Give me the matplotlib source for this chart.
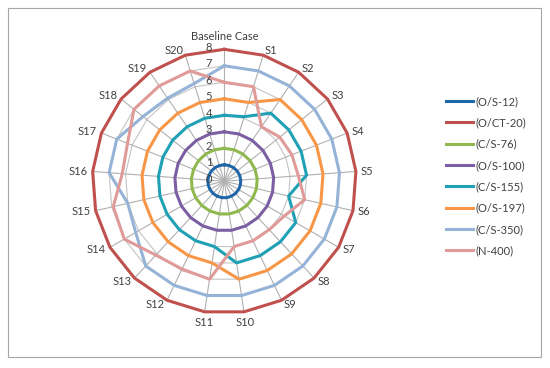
import numpy as np
import matplotlib.pyplot as plt
import matplotlib.transforms as mtransforms
from matplotlib.patches import Rectangle

plt.rcParams['font.family'] = ['Lato', 'DejaVu Sans']

# categories (spokes), clockwise from the top
categories = ['Baseline Case', 'S1', 'S2', 'S3', 'S4', 'S5', 'S6', 'S7', 'S8', 'S9', 'S10',
              'S11', 'S12', 'S13', 'S14', 'S15', 'S16', 'S17', 'S18', 'S19', 'S20']
r_ticks = [0, 1, 2, 3, 4, 5, 6, 7, 8]

# values
os_12 = [1, 1, 1, 1, 1, 1, 1, 1, 1, 1, 1, 1, 1, 1, 1, 1, 1, 1, 1, 1, 1]
oct_20 = [8, 8, 8, 8, 8, 8, 8, 8, 8, 8, 8, 8, 8, 8, 8, 8, 8, 8, 8, 8, 8]
cs_76 = [2, 2, 2, 2, 2, 2, 2, 2, 2, 2, 2, 2, 2, 2, 2, 2, 2, 2, 2, 2, 2]
os_100 = [3, 3, 3, 3, 3, 3, 3, 3, 3, 3, 3, 3, 3, 3, 3, 3, 3, 3, 3, 3, 3]
cs_155 = [4, 4.1, 5, 5, 5, 5, 4, 5, 5, 5, 5, 4, 4, 4, 4, 4, 4, 4, 4, 4, 4]
os_197 = [5, 5, 6, 6, 6, 6, 6, 6, 6, 6, 6, 5, 5, 5, 5, 5, 5, 5, 5, 5, 5]
cs_350 = [7, 7, 7, 7, 7, 7, 7, 7, 7, 7, 7, 7, 7, 7, 6.2, 6.0, 7, 7, 6.3, 6.1, 6.2]
n_400 = [6, 6, 4, 4.3, 4.4, 4.5, 5, 4.2, 4, 4, 4, 6, 5.9, 6.1, 7, 6.9, 6.2, 6.3, 7, 7, 7]

names = ['(O/S-12)', '(O/CT-20)', '(C/S-76)', '(O/S-100)', '(C/S-155)', '(O/S-197)', '(C/S-350)', '(N-400)']
values = [os_12, oct_20, cs_76, os_100, cs_155, os_197, cs_350, n_400]
colors = ['#1f67a8', '#c0504d', '#8fb84f', '#7c5ea2', '#1fa0b4', '#f79646', '#95b3d7', '#e09a98']

n = len(categories)
theta = np.arange(n) * 2 * np.pi / n
theta_c = np.append(theta, theta[0])

fig = plt.figure(figsize=(5.5, 3.68), dpi=100)
# light border of the chart area
fig.patches.append(Rectangle((8 / 550, 1 - 357 / 368), 533 / 550, 349 / 368, transform=fig.transFigure,
                             fill=False, edgecolor='#a6a6a6', linewidth=0.8))

ax = fig.add_axes([0.1678, 0.1486, 0.48, 0.7174], projection='polar')
ax.set_theta_zero_location('N')
ax.set_theta_direction(-1)
ax.set_ylim(0, 8)
ax.grid(False)
ax.spines['polar'].set_visible(False)
ax.set_xticks([])
ax.set_yticks([])
ax.patch.set_alpha(0)

# polygon grid + spokes
for r in r_ticks[1:]:
    ax.plot(theta_c, [r] * (n + 1), color='#c4c4c4', lw=0.8, zorder=1, clip_on=False)
for t in theta:
    ax.plot([t, t], [0, 8], color='#b0b0b0', lw=0.8, zorder=1, clip_on=False)

lines = []
for name, v, c in zip(names, values, colors):
    ln, = ax.plot(theta_c, v + [v[0]], color=c, lw=2.2, label=name, zorder=3, clip_on=False)
    lines.append(ln)

# radial labels, just left of the top spoke
off = mtransforms.offset_copy(ax.transData, fig=fig, x=-12, y=2, units='dots')
for r in r_ticks:
    ax.text(0, r, str(r), transform=off, ha='right', va='center', fontsize=8, color='#404040', zorder=4)

# category labels
for t, lab in zip(theta, categories):
    s, c = np.sin(t), np.cos(t)
    ha = 'left' if s > 0.2 else ('right' if s < -0.2 else 'center')
    va = 'bottom' if c > 0.98 else ('top' if c < -0.98 else 'center')
    rr = 8.45 if c > 0.98 else 8.3
    ax.text(t, rr, lab, ha=ha, va=va, fontsize=8, color='#404040')

fig.legend(handles=lines, loc='center left', bbox_to_anchor=(446 / 550, 1 - 176 / 368),
           frameon=False, fontsize=8, handlelength=2.45, handletextpad=0.2,
           labelspacing=0.93, borderpad=0, borderaxespad=0, labelcolor='#404040')

fig.savefig('out.png', dpi=100)
